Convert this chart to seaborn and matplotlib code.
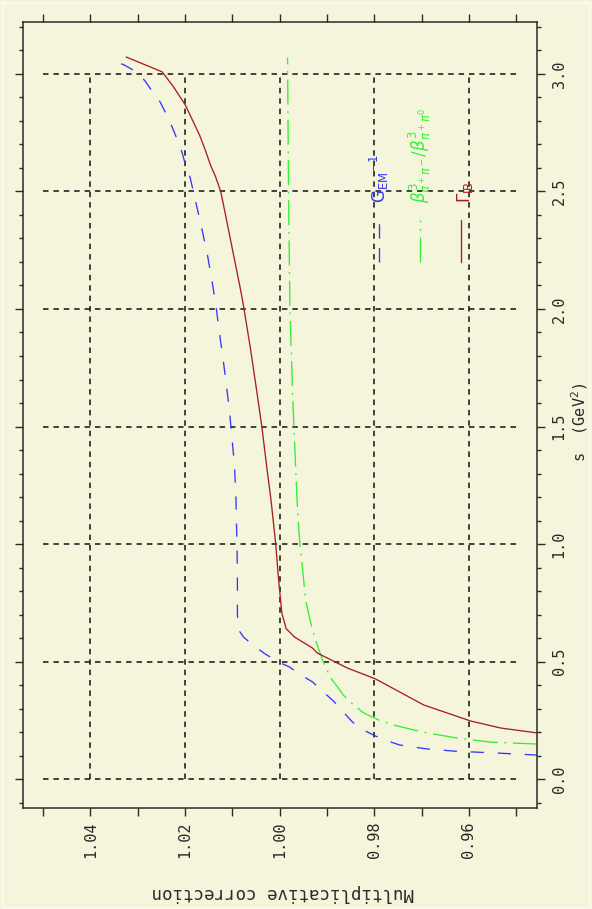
import numpy as np
import pandas as pd
import matplotlib
matplotlib.use("Agg")
import matplotlib.pyplot as plt
import seaborn as sns
from matplotlib.ticker import MultipleLocator, FixedLocator, FixedFormatter

# ---------------- data (s in GeV^2, multiplicative correction) ----------------
s_gem = [0.102, 0.111, 0.115, 0.119, 0.123, 0.128, 0.136, 0.145, 0.162, 0.183,
         0.209, 0.243, 0.285, 0.332, 0.370, 0.413, 0.438, 0.477, 0.498, 0.532,
         0.562, 0.604, 0.633, 0.700, 0.877, 1.000, 1.187, 1.328, 1.443, 1.570,
         1.655, 1.783, 1.898, 2.009, 2.123, 2.238, 2.349, 2.464, 2.560, 2.600,
         2.660, 2.720, 2.770, 2.820, 2.880, 2.920, 2.970, 3.010, 3.040, 3.060]
c_gem = [0.9454, 0.9543, 0.9588, 0.9632, 0.9655, 0.9687, 0.9716, 0.9746, 0.9771, 0.9797,
         0.9823, 0.9846, 0.9865, 0.9886, 0.9907, 0.9930, 0.9951, 0.9979, 1.0002, 1.0030,
         1.0051, 1.0076, 1.0086, 1.0089, 1.0089, 1.0090, 1.0092, 1.0095, 1.0100, 1.0106,
         1.0111, 1.0119, 1.0127, 1.0134, 1.0143, 1.0153, 1.0165, 1.0178, 1.0189, 1.0197,
         1.0205, 1.0216, 1.0226, 1.0237, 1.0252, 1.0267, 1.0284, 1.0303, 1.0330, 1.0358]

s_beta = [0.149, 0.157, 0.174, 0.196, 0.209, 0.230, 0.251, 0.281, 0.315, 0.357,
          0.391, 0.430, 0.506, 0.591, 0.664, 0.762, 0.889, 1.000, 1.145, 1.328,
          1.613, 2.000, 2.500, 3.070]
c_beta = [0.9454, 0.9553, 0.9623, 0.9687, 0.9716, 0.9759, 0.9790, 0.9822, 0.9843, 0.9865,
          0.9877, 0.9892, 0.9909, 0.9924, 0.9934, 0.9945, 0.9951, 0.9957, 0.9962, 0.9966,
          0.9972, 0.9978, 0.9981, 0.9983]

s_gib = [0.196, 0.217, 0.247, 0.315, 0.426, 0.472, 0.536, 0.557, 0.604, 0.640,
         0.706, 0.847, 1.000, 1.187, 1.328, 1.494, 1.621, 1.826, 2.000, 2.068,
         2.209, 2.349, 2.498, 2.562, 2.613, 2.677, 2.740, 2.868, 2.945, 3.009, 3.072]
c_gib = [0.9454, 0.9532, 0.9596, 0.9695, 0.9797, 0.9856, 0.9920, 0.9930, 0.9968, 0.9986,
         0.9995, 1.0002, 1.0008, 1.0018, 1.0027, 1.0037, 1.0046, 1.0061, 1.0075, 1.0081,
         1.0095, 1.0109, 1.0124, 1.0135, 1.0146, 1.0157, 1.0169, 1.0199, 1.0224, 1.0248, 1.0324]

corr_ticks = [1.04, 1.02, 1.00, 0.98, 0.96]
corr_labels = ["1.04", "1.02", "1.00", "0.98", "0.96"]
s_ticks = [0.0, 0.5, 1.0, 1.5, 2.0, 2.5, 3.0]
s_labels = ["0.0", "0.5", "1.0", "1.5", "2.0", "2.5", "3.0"]

series_labels = [r"G$_{\rm EM}$$^{-1}$",
                 r"$\beta^3_{\pi^+\pi^-}/\beta^3_{\pi^+\pi^0}$",
                 r"$\Gamma_{\rm IB}$"]

# ---------------- style ----------------
BG = "#F5F5DC"
INK = "#2a2a2a"
sns.set_style("ticks")
plt.rcParams["font.family"] = ["DejaVu Sans Mono", "DejaVu Sans"]
plt.rcParams["axes.facecolor"] = BG
plt.rcParams["figure.facecolor"] = BG

W, H = 592, 909
fig = plt.figure(figsize=(W / 100, H / 100), dpi=100)
L, R, T, B = 23, 537, 22, 808
ax = fig.add_axes([L / W, 1 - B / H, (R - L) / W, (B - T) / H])
ax.set_facecolor(BG)

colors = ["#3535ff", "#33f033", "#a82020"]
lw = 0.95
styles = [(0, (10.0, 10.5)), (0, (19.0, 5.0, 1.5, 5.0)), "-"]

frames = [
    pd.DataFrame({"corr": c_gem, "s": s_gem}),
    pd.DataFrame({"corr": c_beta, "s": s_beta}),
    pd.DataFrame({"corr": c_gib, "s": s_gib}),
]
for df, col, ls in zip(frames, colors, styles):
    sns.lineplot(data=df, x="corr", y="s", sort=False, estimator=None,
                 color=col, lw=lw, ax=ax)
    ax.lines[-1].set_linestyle(ls)

# limits: correction axis reversed (rotated chart)
ax.set_xlim(1.0542, 0.9456)
ax.set_ylim(-0.123, 3.221)

# dashed grid restricted like the original
grid_kw = dict(color="#111111", lw=1.1, linestyle=(0, (3.6, 3.2)), zorder=0.5)
ax.vlines(corr_ticks, 0.0, 3.0, **grid_kw)
ax.hlines(s_ticks, 1.05, 0.95, **grid_kw)

# ticks
ax.xaxis.set_major_locator(FixedLocator(corr_ticks))
ax.xaxis.set_major_formatter(FixedFormatter(corr_labels))
ax.xaxis.set_minor_locator(MultipleLocator(0.01))
ax.yaxis.set_major_locator(FixedLocator(s_ticks))
ax.yaxis.set_major_formatter(FixedFormatter(s_labels))
ax.yaxis.set_minor_locator(MultipleLocator(0.1))

ax.tick_params(axis="x", which="both", direction="out", length=5.5, width=1.0,
               color=INK, top=True, bottom=True, labelbottom=True, labeltop=False)
ax.tick_params(axis="y", which="major", direction="out", length=5.5, width=1.0,
               color=INK, left=True, right=True, labelleft=False, labelright=True)
ax.tick_params(axis="y", which="minor", direction="out", length=3.0, width=1.0,
               color=INK, left=True, right=True)
ax.tick_params(axis="x", labelsize=11, labelcolor=INK, pad=4)
ax.tick_params(axis="y", labelsize=11, labelcolor=INK, pad=5)
for lab in ax.get_xticklabels():
    lab.set_rotation(90)
for lab in ax.get_yticklabels():
    lab.set_rotation(90)
    lab.set_va("center")

for sp in ax.spines.values():
    sp.set_color(INK)
    sp.set_linewidth(1.1)
    sp.set_visible(True)

ax.set_xlabel("")
ax.set_ylabel("")
fig.text((L + R) / 2 / W + 3 / W, 1 - 893 / H, "Multiplicative correction", rotation=180,
         ha="center", va="center", fontsize=12.5, color=INK)
fig.text(580 / W, 1 - 422 / H, r"s  (GeV$^2$)", rotation=90,
         ha="center", va="center", fontsize=11, color=INK)

# legend (rotated)
def ax_frac(px, py):
    return (px - L) / (R - L), (B - py) / (B - T)

leg_x = [379, 420, 461]
leg_tx = [379, 420, 465]
for xp, xt_p, col, ls, lab in zip(leg_x, leg_tx, colors, styles, series_labels):
    x0, y0 = ax_frac(xp, 262)
    _, y1 = ax_frac(xp, 220)
    ax.plot([x0, x0], [y0, y1], transform=ax.transAxes, color=col, lw=lw,
            linestyle=ls if ls != styles[0] else (0, (11, 7)))
    xt, yt = ax_frac(xt_p, 203)
    ax.text(xt, yt, lab, transform=ax.transAxes, rotation=90, rotation_mode="anchor",
            ha="left", va="center", fontsize=12, color=col,
            family=["DejaVu Sans"])

# thin light frame around the picture
fig.patches.append(plt.Rectangle((3 / W, 1 / H), (W - 5) / W, (H - 4) / H,
                                 transform=fig.transFigure, fill=False,
                                 edgecolor="#fbfbf0", lw=1.2))

fig.savefig("out.png", dpi=100, facecolor=BG)
